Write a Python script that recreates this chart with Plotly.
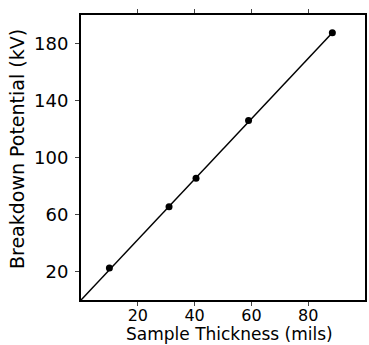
import plotly.graph_objects as go

thickness = [10, 31, 40.5, 59, 88.5]
potential = [22.5, 65.5, 85.5, 126, 187.5]
fit_x = [0, 88.5]
fit_y = [0, 187.5]
x_ticks = [20, 40, 60, 80]
y_ticks = [20, 60, 100, 140, 180]
x_title = "Sample Thickness (mils)"
y_title = "Breakdown Potential (kV)"

fig = go.Figure()
fig.add_trace(go.Scatter(x=fit_x, y=fit_y, mode="lines",
                         line=dict(color="black", width=1.5), showlegend=False))
fig.add_trace(go.Scatter(x=thickness, y=potential, mode="markers",
                         marker=dict(color="black", size=7), showlegend=False))

fig.update_layout(
    width=369, height=345,
    margin=dict(l=81, r=2, t=15, b=45),
    plot_bgcolor="white", paper_bgcolor="white",
    font=dict(family="DejaVu Sans", size=18, color="black"),
    xaxis=dict(range=[0, 100], tickvals=x_ticks, ticks="outside", ticklen=4,
               tickwidth=1.2, showline=True, linecolor="black", linewidth=2,
               mirror="ticks", showgrid=False, zeroline=False,
               tickfont=dict(size=16), ticklabelstandoff=-4),
    yaxis=dict(range=[0, 200], tickvals=y_ticks, ticks="outside", ticklen=4,
               tickwidth=1.2, showline=True, linecolor="black", linewidth=2,
               mirror=True, showgrid=False, zeroline=False,
               tickfont=dict(size=18), ticklabelstandoff=3),
    annotations=[
        dict(text=x_title, xref="paper", yref="paper", x=0.523, y=-0.158,
             xanchor="center", yanchor="bottom", showarrow=False, borderpad=0,
             font=dict(size=17)),
        dict(text=y_title, xref="paper", yref="paper", x=-0.225, y=0.53,
             xanchor="center", yanchor="middle", showarrow=False, textangle=-90,
             borderpad=0, font=dict(size=19)),
    ],
)
fig.write_html("out.html")
